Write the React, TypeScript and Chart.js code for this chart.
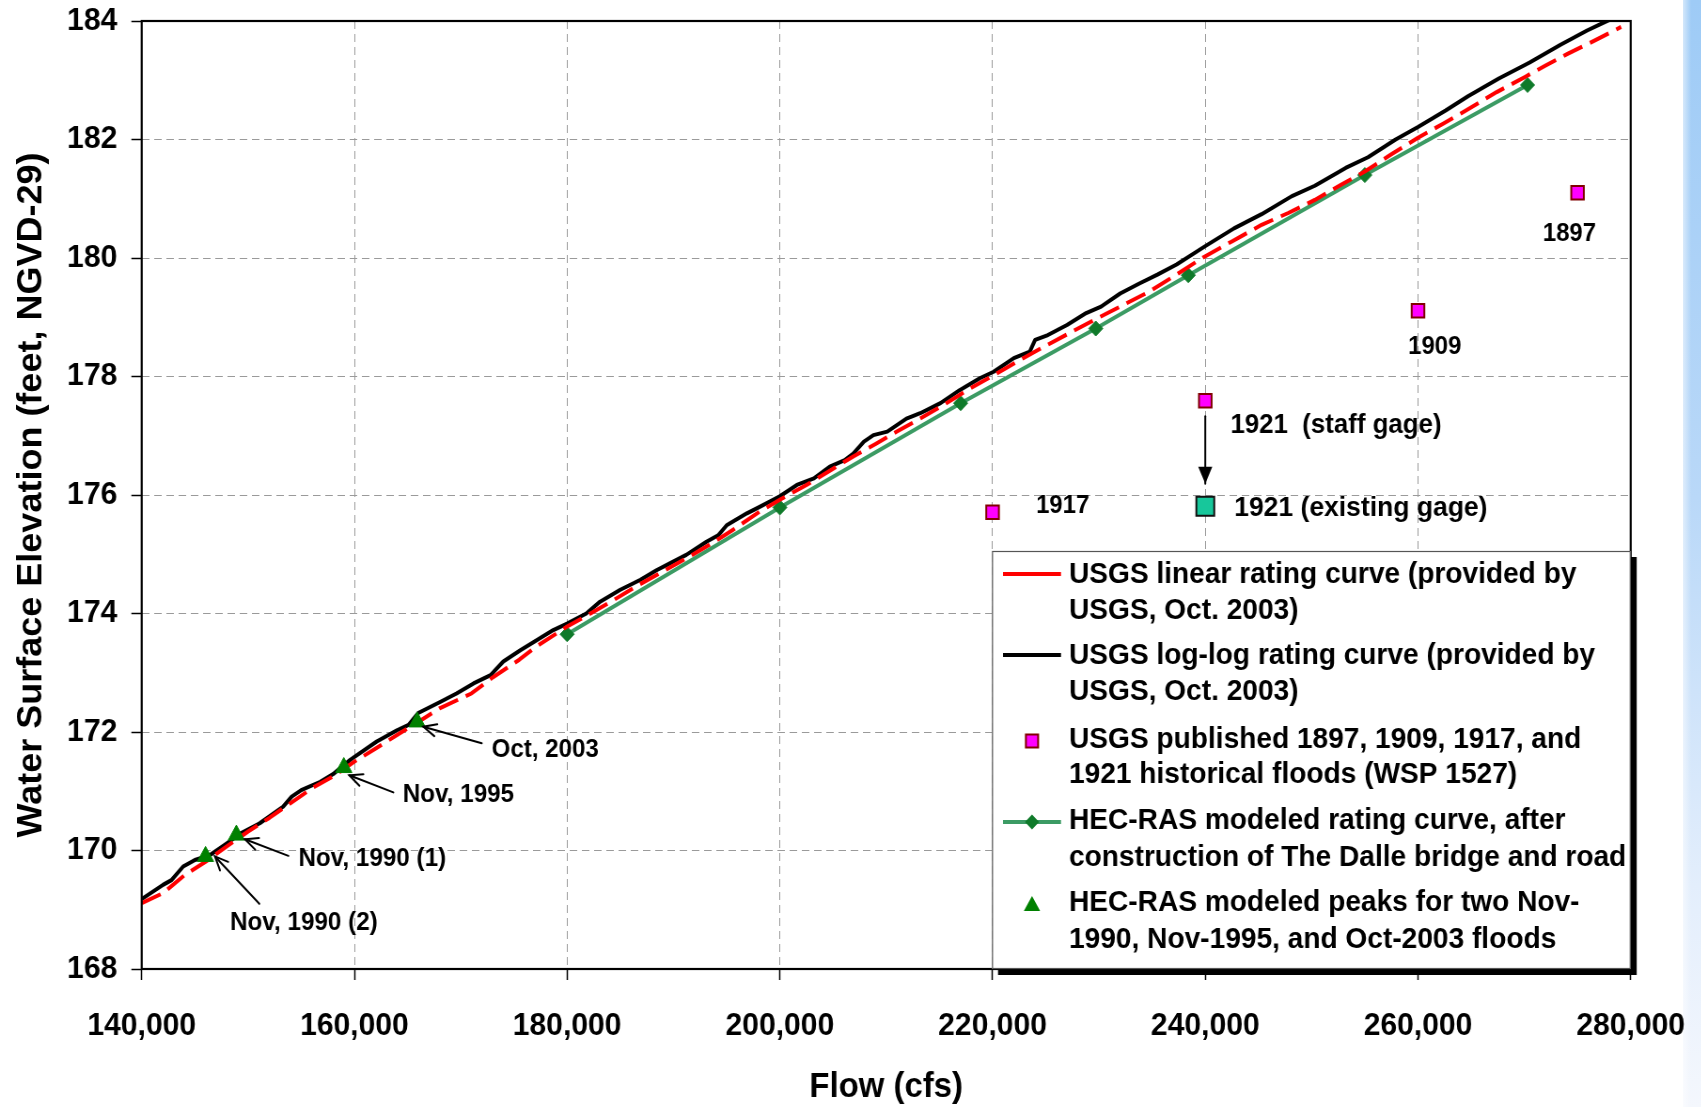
import React, { useEffect, useRef } from 'react';
import { Chart, registerables } from 'chart.js';

Chart.register(...registerables);

// ---------------- data ----------------
const xTickMin = 140000;
const xTickMax = 280000;
const xTickStep = 20000;
const yTickMin = 168;
const yTickMax = 184;
const yTickStep = 2;

const xTitle = 'Flow (cfs)';
const yTitle = 'Water Surface Elevation (feet, NGVD-29)';

// USGS linear rating curve (red dashed)
const linearFlow = [140000, 142000, 144000, 146000, 148000, 150000, 152000, 154000, 156000, 158000, 160000, 162000, 164000, 166000, 168000, 171000, 173000, 175500, 177000, 180000, 182000, 184400, 186500, 189000, 191000, 193100, 195500, 198100, 200000, 202500, 204700, 206900, 209000, 211000, 213200, 215400, 217700, 220100, 222500, 224800, 227200, 229500, 232000, 234800, 237300, 239800, 242500, 245300, 247800, 250300, 252600, 255000, 257500, 260000, 262400, 264700, 267400, 270100, 272000, 274100, 276500, 279100];
const linearElev = [169.11, 169.28, 169.58, 169.81, 170.07, 170.32, 170.55, 170.80, 171.05, 171.25, 171.50, 171.72, 171.95, 172.17, 172.40, 172.65, 172.92, 173.22, 173.43, 173.78, 173.98, 174.23, 174.46, 174.71, 174.91, 175.13, 175.40, 175.72, 175.92, 176.17, 176.41, 176.65, 176.86, 177.07, 177.29, 177.52, 177.78, 178.02, 178.27, 178.50, 178.73, 178.95, 179.18, 179.44, 179.72, 180.01, 180.28, 180.56, 180.76, 180.98, 181.22, 181.46, 181.75, 182.03, 182.27, 182.51, 182.80, 183.06, 183.25, 183.45, 183.66, 183.90];

// USGS log-log rating curve (black)
const loglogFlow = [140000, 142000, 142800, 143900, 145000, 146400, 148000, 149400, 151100, 153300, 154100, 155000, 156800, 158000, 159600, 162100, 164000, 165100, 166000, 168100, 169600, 171200, 172800, 174000, 175600, 178700, 180000, 181800, 183100, 185000, 186900, 188400, 189700, 191200, 193100, 194200, 195000, 196900, 198100, 200000, 201600, 203200, 204700, 206100, 206900, 207900, 208800, 210100, 211900, 213200, 215100, 216900, 218800, 220100, 222000, 223500, 224000, 225200, 227000, 228800, 230200, 232000, 233800, 235500, 237300, 240000, 242700, 245300, 248100, 250300, 253200, 255300, 257900, 260000, 262600, 264700, 267600, 270500, 273400, 275900, 278000];
const loglogElev = [169.18, 169.42, 169.50, 169.73, 169.84, 169.92, 170.12, 170.30, 170.46, 170.74, 170.91, 171.02, 171.16, 171.29, 171.53, 171.84, 172.03, 172.12, 172.32, 172.51, 172.65, 172.82, 172.96, 173.19, 173.38, 173.72, 173.83, 174.00, 174.20, 174.40, 174.57, 174.73, 174.85, 174.99, 175.21, 175.32, 175.49, 175.69, 175.80, 175.98, 176.17, 176.28, 176.48, 176.59, 176.70, 176.90, 177.01, 177.07, 177.29, 177.38, 177.55, 177.77, 177.97, 178.08, 178.31, 178.42, 178.62, 178.70, 178.87, 179.07, 179.18, 179.40, 179.57, 179.72, 179.89, 180.20, 180.50, 180.74, 181.04, 181.22, 181.52, 181.70, 182.00, 182.21, 182.49, 182.73, 183.03, 183.30, 183.60, 183.84, 184.02];

// HEC-RAS modeled rating curve (green with diamonds)
const hecFlow = [180000, 200000, 217000, 229700, 238400, 255000, 270300];
const hecElev = [173.65, 175.79, 177.55, 178.81, 179.71, 181.40, 182.92];

// USGS published historical floods (magenta squares)
const histYears = ['1897', '1909', '1917', '1921'];
const histFlow = [275000, 260000, 220000, 240000];
const histElev = [181.10, 179.11, 175.71, 177.59];

// 1921 at existing gage (teal square)
const existingFlow = [240000];
const existingElev = [175.81];

// HEC-RAS modeled peaks (green triangles)
const peakNames = ['Nov, 1990 (2)', 'Nov, 1990 (1)', 'Nov, 1995', 'Oct, 2003'];
const peakFlow = [146000, 148900, 159000, 165900];
const peakElev = [169.90, 170.26, 171.40, 172.17];

// annotation texts (anchor = left edge / vertical middle, in data units)
const noteText = ['Oct, 2003', 'Nov, 1995', 'Nov, 1990 (1)', 'Nov, 1990 (2)', '1917', '1921  (staff gage)', '1921 (existing gage)', '1909', '1897'];
const noteFlow = [172910, 164540, 154730, 148300, 224090, 242360, 242720, 259070, 271730];
const noteElev = [171.70, 170.94, 169.86, 168.77, 175.82, 177.18, 175.77, 178.50, 180.40];
const noteSize = [25.6, 25.8, 25.8, 25.8, 25.5, 27.5, 28.2, 25.5, 25.5];

// annotation arrows (tail -> head, data units)
const arrowFromFlow = [171970, 163660, 153790, 151060, 240000];
const arrowFromElev = [171.81, 170.98, 169.91, 169.10, 177.33];
const arrowToFlow = [166480, 159520, 149710, 146890, 240000];
const arrowToElev = [172.09, 171.27, 170.19, 169.90, 176.19];
const arrowKind = ['open', 'open', 'open', 'open', 'filled'];

const legendLabels = [
  ['USGS linear rating curve (provided by', 'USGS, Oct. 2003)'],
  ['USGS log-log rating curve (provided by', 'USGS, Oct. 2003)'],
  ['USGS published 1897, 1909, 1917, and', '1921 historical floods (WSP 1527)'],
  ['HEC-RAS modeled rating curve, after', 'construction of The Dalle bridge and road'],
  ['HEC-RAS modeled peaks for two Nov-', '1990, Nov-1995, and Oct-2003 floods'],
];

// ---------------- layout / style ----------------
const FONT = "'Liberation Sans', Arial, Helvetica, sans-serif";
const SQUISH = 0.94;
const CANVAS_W = 1810;
const CANVAS_H = 1107;
const sx = (v: number) => v / SQUISH;
const PLOT_LEFT = sx(141.7);
const PLOT_RIGHT = sx(1630.7);
const PLOT_TOP = 21;
const PLOT_BOTTOM = 969;

const RED = '#ff0000';
const BLACK = '#000000';
const GREEN_LINE = '#3c9b64';
const GREEN_MARK = '#0f7a2a';
const MAGENTA = '#ff00ff';
const MAROON = '#800000';
const TEAL = '#17c79b';
const TRI = '#008000';

const LEG = {
  left: sx(992),
  top: 551,
  shadow: 6,
  sampleX1: sx(1003),
  sampleX2: sx(1061),
  markerX: sx(1032),
  textX: sx(1069),
  font: 29.9,
};
const legendTextY = [[575, 611], [656, 692], [740, 775], [821, 858], [903, 940]];
const legendMarkY = [574, 655, 741, 822, 905];

function pts(xs: number[], ys: number[]) {
  return xs.map((x, i) => ({ x, y: ys[i] }));
}

function drawArrow(ctx: CanvasRenderingContext2D, x1: number, y1: number, x2: number, y2: number, kind: string) {
  ctx.beginPath();
  ctx.moveTo(x1, y1);
  ctx.lineTo(x2, y2);
  ctx.stroke();
  const ang = Math.atan2(y2 - y1, x2 - x1);
  if (kind === 'open') {
    const len = 15;
    const spread = 0.42;
    ctx.beginPath();
    ctx.moveTo(x2 - len * Math.cos(ang - spread), y2 - len * Math.sin(ang - spread));
    ctx.lineTo(x2, y2);
    ctx.lineTo(x2 - len * Math.cos(ang + spread), y2 - len * Math.sin(ang + spread));
    ctx.stroke();
  } else {
    const len = 17;
    const half = 7.5;
    const bx = x2 - len * Math.cos(ang);
    const by = y2 - len * Math.sin(ang);
    const px = -Math.sin(ang) * half;
    const py = Math.cos(ang) * half;
    ctx.beginPath();
    ctx.moveTo(x2, y2);
    ctx.lineTo(bx + px, by + py);
    ctx.lineTo(bx - px, by - py);
    ctx.closePath();
    ctx.fill();
  }
}

function drawTriangle(ctx: CanvasRenderingContext2D, x: number, y: number, r: number) {
  ctx.beginPath();
  ctx.moveTo(x, y - r);
  ctx.lineTo(x + r * Math.sin((2 * Math.PI) / 3), y - r * Math.cos((2 * Math.PI) / 3));
  ctx.lineTo(x - r * Math.sin((2 * Math.PI) / 3), y - r * Math.cos((2 * Math.PI) / 3));
  ctx.closePath();
  ctx.fill();
}

function drawDiamond(ctx: CanvasRenderingContext2D, x: number, y: number, r: number) {
  ctx.beginPath();
  ctx.moveTo(x, y - r);
  ctx.lineTo(x + r, y);
  ctx.lineTo(x, y + r);
  ctx.lineTo(x - r, y);
  ctx.closePath();
  ctx.fill();
}

const noPadding = (scale: any) => {
  scale.paddingTop = 0;
  scale.paddingBottom = 0;
  scale.paddingLeft = 0;
  scale.paddingRight = 0;
};

const overlayPlugin = {
  id: 'overlay',
  afterDatasetsDraw(chart: any) {
    const { ctx, chartArea } = chart;
    const xs = chart.scales.x;
    const ys = chart.scales.y;
    ctx.save();

    // plot frame
    ctx.strokeStyle = '#000';
    ctx.lineWidth = 2.2;
    ctx.setLineDash([]);
    ctx.strokeRect(chartArea.left, chartArea.top, chartArea.right - chartArea.left, chartArea.bottom - chartArea.top);

    // arrows
    ctx.strokeStyle = '#000';
    ctx.fillStyle = '#000';
    ctx.lineWidth = 2;
    ctx.lineCap = 'round';
    ctx.lineJoin = 'miter';
    for (let i = 0; i < arrowKind.length; i++) {
      drawArrow(
        ctx,
        xs.getPixelForValue(arrowFromFlow[i]),
        ys.getPixelForValue(arrowFromElev[i]),
        xs.getPixelForValue(arrowToFlow[i]),
        ys.getPixelForValue(arrowToElev[i]),
        arrowKind[i]
      );
    }

    // annotation texts
    ctx.fillStyle = '#000';
    ctx.textAlign = 'left';
    ctx.textBaseline = 'middle';
    for (let i = 0; i < noteText.length; i++) {
      ctx.font = `bold ${noteSize[i]}px ${FONT}`;
      ctx.fillText(noteText[i], xs.getPixelForValue(noteFlow[i]), ys.getPixelForValue(noteElev[i]));
    }

    // legend box with shadow
    const right = chartArea.right;
    const bottom = chartArea.bottom;
    const w = right - LEG.left;
    const h = bottom - LEG.top;
    ctx.fillStyle = '#000';
    ctx.fillRect(LEG.left + sx(LEG.shadow), LEG.top + LEG.shadow, w, h);
    ctx.fillStyle = '#fff';
    ctx.fillRect(LEG.left, LEG.top, w, h);
    ctx.strokeStyle = '#555';
    ctx.lineWidth = 1.2;
    ctx.strokeRect(LEG.left + 0.5, LEG.top + 0.5, w - 1, h - 1);

    // legend markers
    ctx.lineCap = 'butt';
    ctx.lineWidth = 3.8;
    ctx.strokeStyle = RED;
    ctx.beginPath();
    ctx.moveTo(LEG.sampleX1, legendMarkY[0]);
    ctx.lineTo(LEG.sampleX2, legendMarkY[0]);
    ctx.stroke();
    ctx.strokeStyle = BLACK;
    ctx.beginPath();
    ctx.moveTo(LEG.sampleX1, legendMarkY[1]);
    ctx.lineTo(LEG.sampleX2, legendMarkY[1]);
    ctx.stroke();
    // square
    ctx.fillStyle = MAGENTA;
    ctx.fillRect(LEG.markerX - 6.5, legendMarkY[2] - 6.5, 13, 13);
    ctx.strokeStyle = MAROON;
    ctx.lineWidth = 2;
    ctx.strokeRect(LEG.markerX - 6.5, legendMarkY[2] - 6.5, 13, 13);
    // green line + diamond
    ctx.strokeStyle = GREEN_LINE;
    ctx.lineWidth = 3.8;
    ctx.beginPath();
    ctx.moveTo(LEG.sampleX1, legendMarkY[3]);
    ctx.lineTo(LEG.sampleX2, legendMarkY[3]);
    ctx.stroke();
    ctx.fillStyle = GREEN_MARK;
    drawDiamond(ctx, LEG.markerX, legendMarkY[3], 7.5);
    // triangle
    ctx.fillStyle = TRI;
    drawTriangle(ctx, LEG.markerX, legendMarkY[4] + 1, 10);

    // legend text
    ctx.fillStyle = '#000';
    ctx.textAlign = 'left';
    ctx.textBaseline = 'middle';
    ctx.font = `bold ${LEG.font}px ${FONT}`;
    for (let i = 0; i < legendLabels.length; i++) {
      for (let j = 0; j < legendLabels[i].length; j++) {
        ctx.fillText(legendLabels[i][j], LEG.textX, legendTextY[i][j]);
      }
    }
    ctx.restore();
  },
};

export default function App() {
  const canvasRef = useRef<HTMLCanvasElement | null>(null);

  useEffect(() => {
    const canvas = canvasRef.current;
    if (!canvas) return;
    Chart.defaults.font.family = FONT;
    const chart = new Chart(canvas, {
      type: 'scatter',
      data: {
        datasets: [
          {
            label: 'HEC-RAS modeled peaks',
            data: pts(peakFlow, peakElev),
            pointStyle: 'triangle',
            pointRadius: 10,
            backgroundColor: TRI,
            borderColor: TRI,
            borderWidth: 1,
            showLine: false,
            order: 0,
          },
          {
            label: 'USGS published historical floods',
            data: pts(histFlow, histElev),
            pointStyle: 'rect',
            pointRadius: 9.5,
            backgroundColor: MAGENTA,
            borderColor: MAROON,
            borderWidth: 2,
            showLine: false,
            order: 1,
          },
          {
            label: '1921 (existing gage)',
            data: pts(existingFlow, existingElev),
            pointStyle: 'rect',
            pointRadius: 13.5,
            backgroundColor: TEAL,
            borderColor: '#111111',
            borderWidth: 2,
            showLine: false,
            order: 1,
          },
          {
            label: 'USGS linear rating curve',
            data: pts(linearFlow, linearElev),
            showLine: true,
            borderColor: RED,
            backgroundColor: RED,
            borderWidth: 4,
            borderDash: [22, 9],
            pointRadius: 0,
            borderJoinStyle: 'round',
            order: 2,
          },
          {
            label: 'USGS log-log rating curve',
            data: pts(loglogFlow, loglogElev),
            showLine: true,
            borderColor: BLACK,
            backgroundColor: BLACK,
            borderWidth: 4,
            pointRadius: 0,
            borderJoinStyle: 'round',
            order: 3,
          },
          {
            label: 'HEC-RAS modeled rating curve',
            data: pts(hecFlow, hecElev),
            showLine: true,
            borderColor: GREEN_LINE,
            backgroundColor: GREEN_MARK,
            borderWidth: 4,
            pointStyle: 'rectRot',
            pointRadius: 7.5,
            pointBackgroundColor: GREEN_MARK,
            pointBorderColor: GREEN_MARK,
            pointBorderWidth: 1,
            order: 4,
          },
        ],
      } as any,
      options: {
        responsive: false,
        maintainAspectRatio: false,
        animation: false,
        devicePixelRatio: 1,
        events: [],
        layout: {
          padding: { left: 0, right: CANVAS_W - PLOT_RIGHT, top: PLOT_TOP, bottom: 0 },
        },
        plugins: {
          legend: { display: false },
          tooltip: { enabled: false },
        },
        scales: {
          x: {
            type: 'linear',
            position: 'bottom',
            min: xTickMin,
            max: xTickMax,
            afterFit: (scale: any) => {
              scale.height = CANVAS_H - PLOT_BOTTOM;
              noPadding(scale);
            },
            ticks: {
              stepSize: xTickStep,
              autoSkip: false,
              maxRotation: 0,
              padding: 27,
              color: '#000',
              font: { family: FONT, size: 32, weight: 'bold' },
              callback: (v: any) => Number(v).toLocaleString('en-US'),
            },
            grid: {
              color: '#9a9a9a',
              lineWidth: 1,
              tickColor: '#000',
              tickWidth: 1.5,
              tickLength: 11,
              tickBorderDash: [],
            },
            border: { display: false, dash: [8, 5] },
            title: {
              display: true,
              text: xTitle,
              color: '#000',
              font: { family: FONT, size: 35, weight: 'bold', lineHeight: 1.1 },
              padding: { top: 0, bottom: 0 },
            },
          },
          y: {
            type: 'linear',
            position: 'left',
            min: yTickMin,
            max: yTickMax,
            afterFit: (scale: any) => {
              scale.width = PLOT_LEFT;
              noPadding(scale);
            },
            ticks: {
              stepSize: yTickStep,
              autoSkip: false,
              padding: 15,
              color: '#000',
              font: { family: FONT, size: 32, weight: 'bold' },
            },
            grid: {
              color: '#9a9a9a',
              lineWidth: 1,
              tickColor: '#000',
              tickWidth: 1.5,
              tickLength: 11,
              tickBorderDash: [],
            },
            border: { display: false, dash: [8, 5] },
            title: {
              display: true,
              text: yTitle,
              color: '#000',
              font: { family: FONT, size: 36, weight: 'bold' },
              padding: { top: 12, bottom: 0 },
            },
          },
        },
      } as any,
      plugins: [overlayPlugin],
    });
    return () => chart.destroy();
  }, []);

  return (
    <div
      style={{
        position: 'fixed',
        left: 0,
        top: 0,
        width: 1701,
        height: 1107,
        overflow: 'hidden',
        background: '#ffffff',
      }}
    >
      <div
        style={{
          position: 'absolute',
          left: 1683,
          top: 0,
          width: 18,
          height: 1107,
          background:
            'linear-gradient(to right, rgba(255,255,255,0.55), rgba(255,255,255,0) 45%), linear-gradient(to bottom, #9ecbf6 0%, #b9d8f8 45%, #e3eefc 80%, #f4f7fd 100%)',
        }}
      />
      <canvas
        ref={canvasRef}
        width={CANVAS_W}
        height={CANVAS_H}
        style={{
          position: 'absolute',
          left: 0,
          top: 0,
          width: CANVAS_W,
          height: CANVAS_H,
          transform: `scaleX(${SQUISH})`,
          transformOrigin: '0 0',
        }}
      />
    </div>
  );
}
